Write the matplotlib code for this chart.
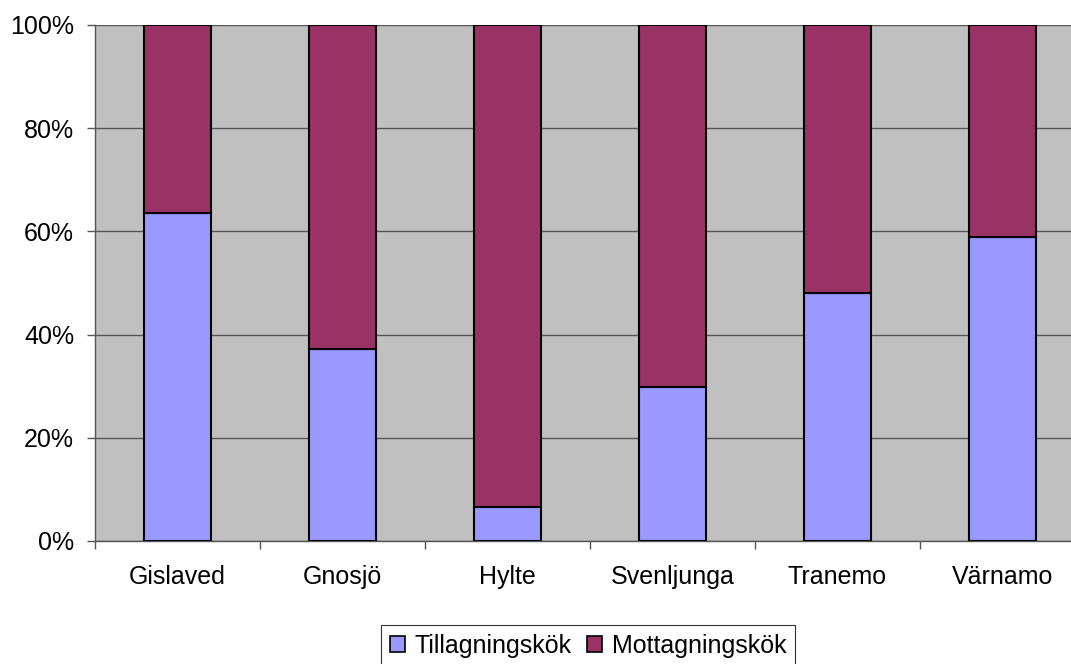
import matplotlib
matplotlib.use("Agg")
import matplotlib.pyplot as plt
import numpy as np
from matplotlib.ticker import FixedLocator, PercentFormatter

categories = ["Gislaved", "Gnosjö", "Hylte", "Svenljunga", "Tranemo", "Värnamo"]
tillagning = [63.6, 37.3, 6.6, 29.8, 48.1, 58.9]
mottagning = [100 - v for v in tillagning]
series_names = ["Tillagningskök", "Mottagningskök"]
y_ticks = [0, 20, 40, 60, 80, 100]

plt.rcParams['font.family'] = ['Liberation Sans', 'DejaVu Sans']

W, H = 1071, 664
fig = plt.figure(figsize=(W / 100, H / 100), dpi=100)
left, right, top, bottom = 95, 1085, 25, 541
ax = fig.add_axes([left / W, 1 - bottom / H, (right - left) / W, (bottom - top) / H])
ax.set_facecolor("#c0c0c0")

x = np.arange(len(categories))
bw = 0.406
ax.bar(x, tillagning, bw, color="#9999ff", edgecolor="black", linewidth=1.5, label=series_names[0], zorder=3)
ax.bar(x, mottagning, bw, bottom=tillagning, color="#993366", edgecolor="black", linewidth=1.5, label=series_names[1], zorder=3)

ax.set_xlim(-0.5, len(categories) - 0.5)
ax.set_ylim(0, 100)
ax.set_yticks(y_ticks)
ax.yaxis.set_major_formatter(PercentFormatter(decimals=0))
ax.grid(axis="y", color="#555555", linewidth=1, zorder=1)
ax.set_axisbelow(True)

ax.set_xticks(x)
ax.set_xticklabels(categories)
ax.xaxis.set_minor_locator(FixedLocator(np.arange(-0.5, len(categories), 1)))
ax.tick_params(axis="x", which="major", length=0, pad=17, labelsize=18)
ax.tick_params(axis="x", which="minor", length=6, color="#555555", width=1)
ax.tick_params(axis="y", length=6, color="#555555", width=1, labelsize=18, pad=9)

for s in ["left", "bottom"]:
    ax.spines[s].set_color("#555555")
    ax.spines[s].set_linewidth(1)
for s in ["top", "right"]:
    ax.spines[s].set_visible(False)

leg = fig.legend(loc="center", bbox_to_anchor=(588 / W, 1 - 646 / H), ncol=2, fontsize=18,
                 frameon=True, fancybox=False, edgecolor="black", handlelength=0.6,
                 handleheight=0.6, handletextpad=0.4, columnspacing=0.6, borderpad=0.35,
                 borderaxespad=0)
leg.get_frame().set_linewidth(0.8)
for h in leg.legend_handles:
    h.set_linewidth(1.2)

fig.savefig("out.png", dpi=100)
